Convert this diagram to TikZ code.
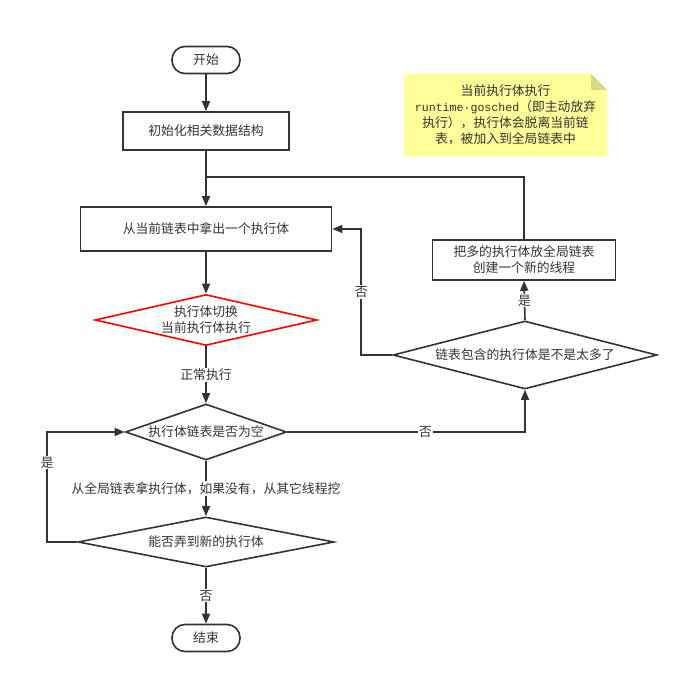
\documentclass[tikz,border=0pt]{standalone}
\usepackage{fontspec}
\setmainfont{Noto Sans CJK SC}
\newfontfamily\monofont{Liberation Mono}
\usepackage{xcolor}
\usetikzlibrary{positioning, arrows.meta, shapes.geometric, backgrounds}
\definecolor{ink}{HTML}{333333}
\definecolor{notefill}{HTML}{FFFF99}
\definecolor{notefold}{HTML}{D9D98C}

\begin{document}
\begin{tikzpicture}[
    x=1pt, y=-1pt,
    >={Triangle[length=10pt, width=8pt]},
    every node/.style={font=\fontsize{12.8pt}{16pt}\selectfont, text=ink},
    term/.style={rectangle, rounded corners=13pt, draw=ink, line width=1.6pt, fill=white, minimum width=68pt, minimum height=27pt},
    proc/.style={rectangle, draw=ink, line width=1.6pt, fill=white, minimum width=#1, align=center},
    proc/.default={166pt},
    dec/.style={diamond, draw=ink, line width=1.6pt, fill=white, inner sep=0pt, align=center},
    arr/.style={->, line width=1.6pt, draw=ink},
    wire/.style={line width=1.6pt, draw=ink},
    lbl/.style={fill=white, inner sep=1pt}
]
\useasboundingbox (0,0) rectangle (689,684);

% main column
\node[term] (start) at (206,60) {开始};
\node[proc, minimum height=38pt] (init) at (206,131) {初始化相关数据结构};
\node[proc=251pt, minimum height=44pt] (take) at (206,229) {从当前链表中拿出一个执行体};
\node[dec, draw=red, minimum width=222pt, minimum height=51pt, aspect=4.3] (switch) at (206,320) {执行体切换\\当前执行体执行};
\node[dec, minimum width=161pt, minimum height=56pt, aspect=2.9] (empty) at (206,432) {执行体链表是否为空};
\node[dec, minimum width=256pt, minimum height=50pt, aspect=5.1] (steal) at (206,542) {能否弄到新的执行体};
\node[term] (end) at (206,638) {结束};

% right branch
\node[dec, minimum width=264pt, minimum height=68pt, aspect=3.9] (many) at (525,355) {链表包含的执行体是不是太多了};
\node[proc=183pt, minimum height=40pt] (spill) at (524,260) {把多的执行体放全局链表\\创建一个新的线程};
\coordinate (join) at (206,177);

% note
\node[minimum width=203pt, minimum height=82pt, align=center, inner sep=0pt] (note) at (505.5,115)
    {当前执行体执行\\{\monofont\fontsize{11.6pt}{16pt}\selectfont runtime·gosched}（即主动放弃\\执行），执行体会脱离当前链\\表，被加入到全局链表中};
\begin{scope}[on background layer]
\fill[notefill] (note.south west) -- (note.north west) -- ([xshift=-16pt]note.north east)
    -- ([yshift=-16pt]note.north east) -- (note.south east) -- cycle;
\fill[notefold] ([xshift=-16pt]note.north east) -- ([yshift=-16pt]note.north east)
    -- ([xshift=-16pt, yshift=-16pt]note.north east) -- cycle;
\end{scope}

\draw[arr] (start) -- (init);
\draw[arr] (init) -- (take);
\draw[wire] (spill.north) |- (join);
\draw[arr] (take) -- (switch);
\draw[arr] (switch) -- node[lbl] {正常执行} (empty);
\draw[arr] (empty.east) -| node[lbl, pos=0.29] {否} (many.south);
\draw[arr] (many.north) -- node[lbl] {是} (spill.south);
\draw[arr] (many.west) -- ++(-31,0) |- node[lbl, pos=0.25] {否} (take.east);
\draw[arr] (empty) -- node[lbl] {从全局链表拿执行体，如果没有，从其它线程挖} (steal);
\draw[arr] (steal.west) -- ++(-30,0) |- node[lbl, pos=0.36] {是} (empty.west);
\draw[arr] (steal) -- node[lbl] {否} (end);

\end{tikzpicture}
\end{document}
